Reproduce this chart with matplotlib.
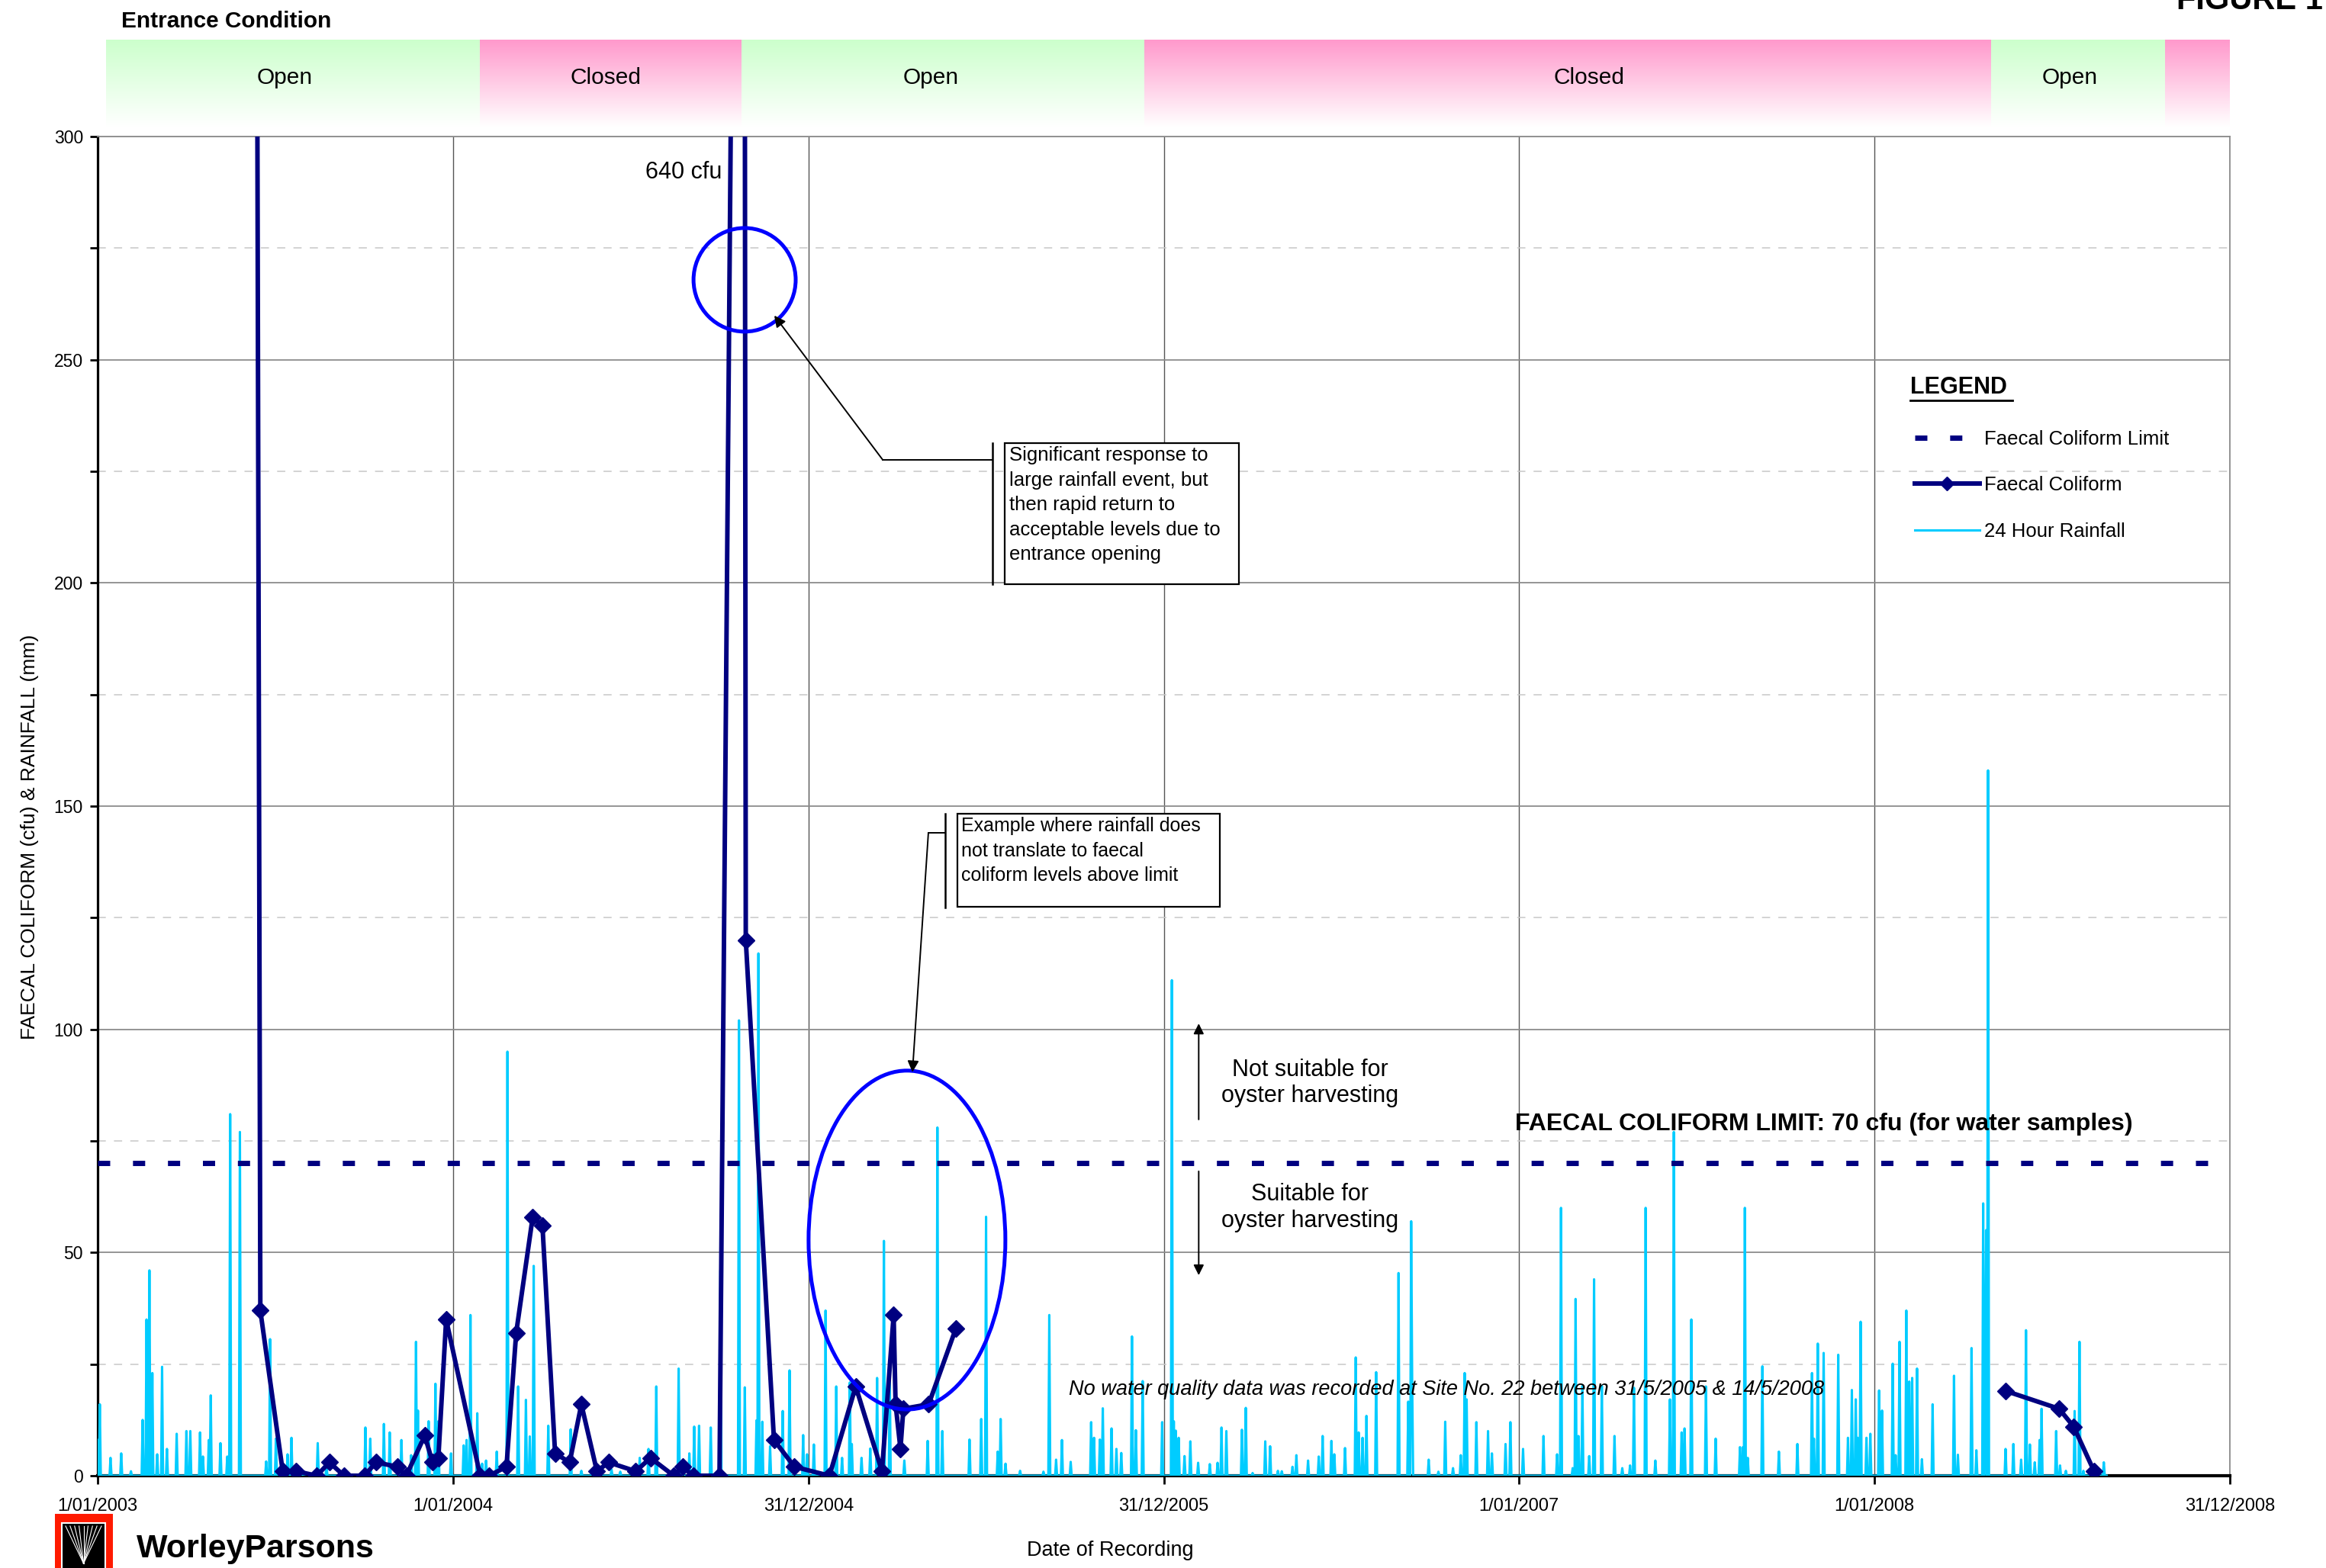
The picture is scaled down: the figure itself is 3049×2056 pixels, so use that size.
import numpy as np
import matplotlib
matplotlib.use("Agg")
import matplotlib.pyplot as plt
from matplotlib.lines import Line2D
from matplotlib.patches import Ellipse, Rectangle

plt.rcParams['font.family'] = ['Liberation Sans', 'DejaVu Sans']

# all x values are days counted from 1/01/2003
x_ticks = [0, 365.25, 730.5, 1095.75, 1461, 1826.25, 2191.5]
x_labels = ['1/01/2003', '1/01/2004', '31/12/2004', '31/12/2005',
            '1/01/2007', '1/01/2008', '31/12/2008']

# faecal coliform samples (nan = gap with no data)
fc_day = [160, 167, 190, 204, 225, 238, 253, 274, 286, 308, 317, 336, 344, 350,
          358, 393, 402, 420, 430, 447, 457, 470, 485, 497, 513, 525, 553, 568,
          592, 601, 612, 639, 663.5, 666, 695, 716, 752, 779, 806, 818, 820, 825,
          828, 854, 882, np.nan, 1961, 2016, 2031, 2052]
fc_cfu = [650, 37, 1, 1, 0, 3, 0, 0, 3, 2, 0, 9, 3, 4,
          35, 0, 0, 2, 32, 58, 56, 5, 3, 16, 1, 3, 1, 4,
          0, 2, 0, 0, 640, 120, 8, 2, 0, 20, 1, 36, 16, 6,
          15, 16, 33, np.nan, 19, 15, 11, 1]

# 24 hour rainfall, days with rain
rain_day = [0, 2, 13, 24, 34, 46, 50, 53, 56, 61, 66, 71, 81, 91, 95, 105, 108, 114,
            116, 126, 133, 136, 146, 173, 177, 183, 195, 199, 226, 235, 275, 280,
            294, 300, 312, 322, 327, 329, 340, 347, 350, 363, 376, 379, 383, 390,
            395, 399, 410, 421, 432, 440, 444, 448, 463, 486, 497, 508, 528, 537,
            557, 566, 574, 597, 608, 613, 618, 630, 635, 640, 659, 665, 677, 679,
            683, 691, 704, 711, 725, 729, 736, 748, 759, 765, 773, 775, 785, 794,
            801, 808, 814, 829, 853, 863, 868, 896, 908, 913, 925, 928, 933, 948,
            972, 978, 985, 991, 1000, 1021, 1024, 1030, 1033, 1042, 1047, 1052,
            1063, 1067, 1074, 1094,
            1104, 1106, 1108, 1111, 1117, 1123, 1131, 1143, 1151, 1155, 1160, 1176,
            1180, 1187, 1200, 1205, 1213, 1217, 1228, 1232, 1244, 1255, 1259, 1268,
            1271, 1282, 1293, 1296, 1300, 1304, 1314, 1337, 1347, 1350, 1351, 1368,
            1378, 1385, 1393, 1401, 1405, 1407, 1417, 1429, 1433, 1447, 1452, 1465,
            1486, 1500, 1504, 1516, 1519, 1522, 1526, 1533, 1538, 1546, 1559, 1567,
            1575, 1579, 1591, 1601, 1616, 1620, 1628, 1631, 1638,
            1653, 1663, 1688, 1691, 1693, 1696, 1711, 1728, 1747, 1762, 1764, 1768,
            1774, 1789, 1799, 1803, 1807, 1809, 1812, 1818, 1822, 1831, 1834, 1845,
            1848, 1852, 1859, 1862, 1865, 1870, 1875, 1886, 1908, 1912, 1926, 1931,
            1938, 1940, 1941, 1943, 1961, 1969, 1977, 1982, 1986, 1991, 1996, 1998,
            2013, 2017, 2023, 2032, 2037, 2041, 2062]
rain_mm = [8, 16, 4, 5, 1, 12.5, 35, 46, 23, 4.8, 24.4, 6, 9.4, 10, 10, 9.7, 4.3, 8,
           18, 7.3, 4.3, 81, 77, 3.2, 30.6, 8.3, 4.8, 8.5, 7.3, 2.3, 10.8, 8.3,
           11.6, 9.7, 8, 4.6, 30, 14.6, 12.2, 20.6, 12.2, 5, 6.8, 8, 36, 14,
           2.7, 3.4, 5.4, 95, 20, 17, 8.8, 47, 11.2, 10.4, 1.1, 1.1, 1.4, 0.9,
           4, 6, 20, 24, 5, 11, 11.2, 10.8, 0.6, 46, 102, 19.8, 12.4, 117,
           12.1, 6.6, 14.5, 23.6, 9.1, 4.8, 7, 37, 20, 4, 20.9, 7.1, 4, 6.1,
           21.9, 52.6, 23.3, 3.4, 7.8, 78, 10, 8.1, 12.7, 58, 5.4, 12.7, 2.7, 1.1,
           0.9, 36, 3.6, 8, 3.1, 12, 8.5, 8.1, 15.1, 10.6, 6, 5.1,
           31.2, 10.2, 21.2, 12,
           111, 12.2, 10.1, 8.5, 4.4, 7.7, 2.9, 2.6, 2.9, 10.8, 10, 10.3,
           15.2, 0.6, 7.7, 6.6, 1.1, 1, 2, 4.6, 3.4, 4.3, 8.9, 7.8,
           4.8, 6.2, 26.5, 9.7, 8.5, 13.4, 23.2, 45.4, 16.6, 57, 21.6, 3.6,
           0.9, 12.1, 1.7, 4.6, 23, 17.1, 12, 10, 5, 7.1, 12, 6,
           8.9, 4.8, 60, 1.7, 39.6, 8.9, 20.1, 4.4, 44, 20.1, 8.9, 1.7,
           2.3, 19.7, 60, 3.4, 17.1, 77, 9.7, 10.6, 35,
           20, 8.3, 6.4, 6.4, 60, 4, 24.5, 5.4, 7.1, 23, 8.3, 29.6,
           27.5, 27.1, 8.5, 19.2, 17.1, 8.5, 34.5, 8.5, 9.4, 19.1, 14.6, 25.1,
           4.6, 30, 37, 21.1, 21.9, 24, 3.7, 16, 22.4, 4.7, 28.6, 5.7,
           61, 13.1, 55, 158, 6, 7.1, 3.6, 32.6, 7, 3, 8, 15,
           10, 2.3, 1.1, 14.5, 30, 1.1, 3]

limit_day = [0, 2191.5]
limit_cfu = [70, 70]

# entrance condition periods
cond_edges = [8, 393, 662, 1076, 1946, 2125, 2191.5]
cond_state = ['Open', 'Closed', 'Open', 'Closed', 'Open', 'Closed']
cond_label = ['Open', 'Closed', 'Open', 'Closed', 'Open', '']
cond_label_day = [192, 522, 856, 1533, 2027, None]

W, H = 3049, 2056
fig = plt.figure(figsize=(W / 100, H / 100), dpi=100)


def fx(px):
    return px / W


def fy(py):
    return 1 - py / H


ax = fig.add_axes([fx(128.3), fy(1935), fx(2794.6), (1935 - 179) / H])

rain = np.zeros(2066)
rain[rain_day] = rain_mm
ax.plot(np.arange(len(rain)), rain, color='#00CCFF', lw=2.2, zorder=3)
ax.plot(limit_day, limit_cfu, color='#000080', lw=5, dashes=(2.3, 4.3),
        solid_capstyle='butt', zorder=4)
ax.plot(fc_day, fc_cfu, color='#000080', lw=4.3, marker='D', markersize=11,
        zorder=5)

ax.set_xlim(0, 2191.5)
ax.set_ylim(0, 300)
ax.set_xticks(x_ticks)
ax.set_xticklabels(x_labels)
ax.set_yticks(range(0, 301, 50))
ax.set_yticks(range(25, 300, 50), minor=True)
ax.tick_params(axis='y', which='both', direction='out', length=7, width=2,
               labelsize=16.5, pad=7)
ax.tick_params(axis='x', direction='out', length=8, width=2, labelsize=17, pad=13)
ax.yaxis.grid(True, which='major', color='#8c8c8c', lw=1.3)
ax.yaxis.grid(True, which='minor', color='#c8c8c8', lw=1.1, dashes=(7, 7))
ax.xaxis.grid(True, color='#555555', lw=1.0)
ax.set_axisbelow(True)
for s in ['top', 'right']:
    ax.spines[s].set_color('#8c8c8c')
    ax.spines[s].set_linewidth(1.3)
ax.spines['left'].set_linewidth(2.3)
ax.spines['bottom'].set_linewidth(3)

# entrance condition band
band = fig.add_axes([fx(128.3), fy(166), fx(2794.6), (166 - 52) / H])
band.set_xlim(0, 2191.5)
band.set_ylim(0, 1)
band.axis('off')
tops = {'Open': (204, 255, 204), 'Closed': (255, 153, 204)}
t = np.linspace(0, 1, 200)[:, None]
for i, state in enumerate(cond_state):
    c = np.array(tops[state]) / 255.0
    img = (1 - t)[:, :, None] * 1.0 + t[:, :, None] * c
    img = img.reshape(200, 1, 3)
    band.imshow(img, extent=(cond_edges[i], cond_edges[i + 1], 0, 1),
                origin='lower', aspect='auto', interpolation='bilinear')
    if cond_label[i]:
        band.text(cond_label_day[i], 0.56, cond_label[i],
                  ha='center', va='center', fontsize=21.5)
band.set_xlim(0, 2191.5)
band.set_ylim(0, 1)

fig.text(fx(159), fy(28), 'Entrance Condition', fontsize=21.5,
         fontweight='bold', va='center')
fig.text(fx(2853), fy(12), 'FIGURE 1', fontsize=30, fontweight='bold',
         va='baseline')

fig.text(fx(39), fy(1097), 'FAECAL COLIFORM (cfu) & RAINFALL (mm)',
         rotation=90, fontsize=19, ha='center', va='center')
fig.text(fx(1455), fy(2033), 'Date of Recording', fontsize=19.5,
         ha='center', va='center')

# annotations
ax.text(602, 292, '640 cfu', fontsize=22, ha='center', va='center')
ax.add_patch(Ellipse((664.8, 267.9), 105, 23.2, fill=False, ec='#0000FF',
                     lw=3.6, zorder=6))
ax.add_patch(Ellipse((831.7, 52.8), 202.3, 75.9, fill=False, ec='#0000FF',
                     lw=3.6, zorder=6))

arrow = dict(arrowstyle='-|>', color='black', lw=1.4, mutation_scale=22,
             shrinkA=0, shrinkB=0)
ax.annotate('', xy=(695.3, 259.9), xytext=(806.7, 227.6), arrowprops=arrow,
            zorder=7)
ax.plot([806.7, 919.6], [227.6, 227.6], color='black', lw=1.4, zorder=7)
ax.plot([919.6, 919.6], [199.7, 231.3], color='black', lw=1.8, zorder=7)
ax.add_patch(Rectangle((932.1, 199.7), 240.8, 31.6, fc='white', ec='black',
                       lw=1.6, zorder=7))
ax.text(937, 230.6, 'Significant response to\nlarge rainfall event, but\n'
        'then rapid return to\nacceptable levels due to\nentrance opening',
        fontsize=18.5, va='top', ha='left', linespacing=1.45, zorder=8)

ax.annotate('', xy=(837.3, 90.4), xytext=(853.7, 144), arrowprops=arrow,
            zorder=7)
ax.plot([853.7, 871.1], [144, 144], color='black', lw=1.4, zorder=7)
ax.plot([871.1, 871.1], [127.3, 148.3], color='black', lw=1.8, zorder=7)
ax.add_patch(Rectangle((883.5, 127.5), 269.8, 20.8, fc='white', ec='black',
                       lw=1.6, zorder=7))
ax.text(887.5, 147.6, 'Example where rainfall does\nnot translate to faecal\n'
        'coliform levels above limit', fontsize=18, va='top', ha='left',
        linespacing=1.45, zorder=8)

arrow2 = dict(arrowstyle='-|>', color='black', lw=1.4, mutation_scale=20,
              shrinkA=0, shrinkB=0)
ax.annotate('', xy=(1131.6, 101.3), xytext=(1131.6, 79.8), arrowprops=arrow2)
ax.annotate('', xy=(1131.6, 44.9), xytext=(1131.6, 68.2), arrowprops=arrow2)
ax.text(1246, 88, 'Not suitable for\noyster harvesting', fontsize=22,
        ha='center', va='center', linespacing=1.2)
ax.text(1246, 60, 'Suitable for\noyster harvesting', fontsize=22,
        ha='center', va='center', linespacing=1.2)

ax.text(1774, 78.7, 'FAECAL COLIFORM LIMIT: 70 cfu (for water samples)',
        fontsize=23, fontweight='bold', ha='center', va='center')
ax.text(1386, 19.3, 'No water quality data was recorded at Site No. 22 '
        'between 31/5/2005 & 14/5/2008', fontsize=19.5, style='italic',
        ha='center', va='center', zorder=8)

# legend
fig.text(fx(2504), fy(508), 'LEGEND', fontsize=22, fontweight='bold',
         va='center')
fig.add_artist(Line2D([fx(2504), fx(2638)], [fy(525), fy(525)], color='black',
                      lw=2))
handles = [
    Line2D([], [], color='#000080', lw=5, dashes=(2.3, 4.3)),
    Line2D([], [], color='#000080', lw=4.3, marker='D', markersize=9),
    Line2D([], [], color='#00CCFF', lw=2.2),
]
labels = ['Faecal Coliform Limit', 'Faecal Coliform', '24 Hour Rainfall']
fig.legend(handles, labels, loc='upper left',
           bbox_to_anchor=(fx(2510), fy(564)), frameon=False, fontsize=18.5,
           handlelength=3.3, handletextpad=0.25, labelspacing=1.42,
           borderpad=0, borderaxespad=0, numpoints=1)

# WorleyParsons logo
fig.add_artist(Rectangle((fx(72), fy(2060)), fx(76), (2060 - 1985) / H,
                         fc='#FF1A00', ec='none', transform=fig.transFigure))
fig.add_artist(Rectangle((fx(81), fy(2060)), fx(57), (2060 - 1997) / H,
                         fc='black', ec='white', lw=1.5,
                         transform=fig.transFigure))
for px in np.linspace(86, 133, 9):
    fig.add_artist(Line2D([fx(109.5), fx(px)], [fy(2050), fy(2001)],
                          color='white', lw=0.8))
fig.text(fx(179), fy(2031), 'WorleyParsons', fontsize=31, fontweight='bold',
         va='center')

fig.savefig('out.png', dpi=100)
